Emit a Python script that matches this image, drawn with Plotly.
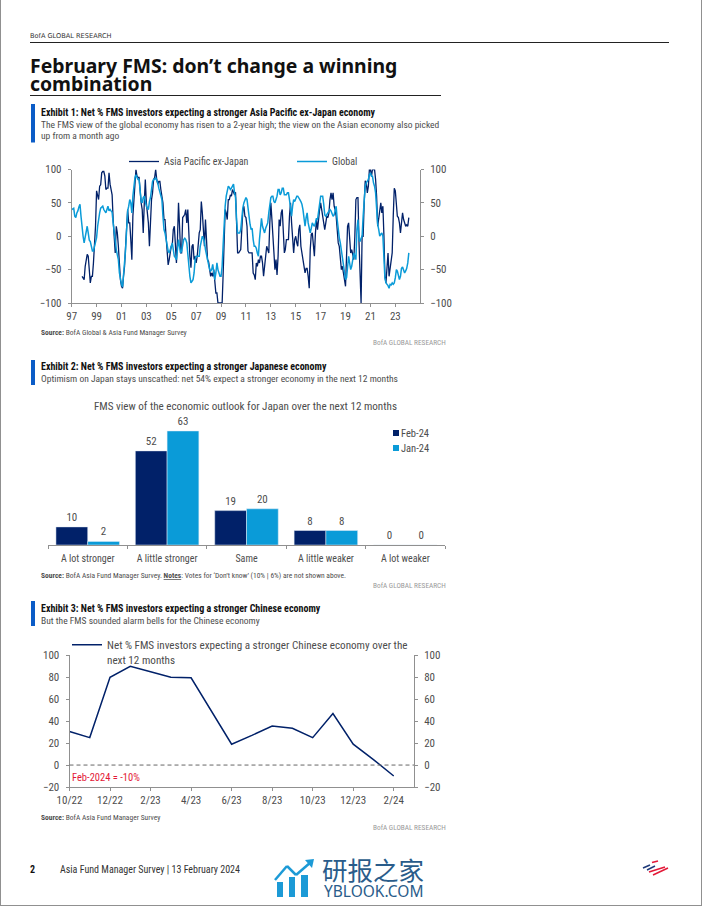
import plotly.graph_objects as go
import pandas as pd

W, H = 702, 907
NAVY = "#012169"
LIGHT = "#0A9BD8"
GRAY = "#909090"
TXT = "#4d4d4d"
BODY = "Roboto Condensed"

# ---- Exhibit 1 (monthly from Jan 1997)
global_view = [40,41,42,30,28,35,38,44,48,30,8,0,-10,0,10,15,5,-6,-8,-15,-22,-22,-15,-5,
 -2,15,28,35,42,44,45,40,38,35,40,45,38,40,38,36,20,5,-5,-20,-28,-35,-55,-65,
 -72,-76,-60,-45,-20,10,38,45,55,50,35,60,80,88,92,88,85,85,70,52,50,58,60,52,
 45,42,40,52,58,70,82,85,85,88,85,80,72,66,60,55,30,10,5,-5,-15,-22,-25,-20,
 -15,-10,-20,-30,-32,-35,-20,-5,-15,-25,-22,-12,-5,-3,-5,-10,-30,-40,-60,-70,-68,-65,-55,-35,
 -30,-30,-30,-30,-15,-5,0,-3,-8,-20,-28,-35,-45,-50,-52,-50,-42,-60,-65,-55,-40,-50,-55,-60,
 -60,-45,-15,20,45,60,68,75,73,70,72,76,78,65,58,25,5,5,5,10,30,42,50,55,
 58,55,40,25,18,10,12,-5,-15,-15,-18,-25,-30,-5,15,27,15,8,5,12,15,20,35,50,
 58,60,60,52,50,55,60,70,70,62,65,72,72,62,62,62,65,65,55,40,30,45,55,52,
 55,60,60,58,55,52,48,40,25,15,28,35,20,8,5,12,20,17,15,20,27,25,40,52,
 60,60,60,48,32,30,33,35,37,40,38,35,30,32,38,45,25,8,-2,-10,-22,-35,-48,-55,
 -65,-62,-40,-30,-40,-50,-45,-35,-25,-30,-35,10,25,-5,-8,-3,0,30,60,75,80,82,85,92,
 95,90,90,80,75,65,40,18,10,0,3,5,0,-30,-62,-70,-72,-74,-78,-72,-73,-70,-72,-70,
 -62,-50,-52,-62,-65,-60,-48,-46,-50,-55,-52,-48,-40,-25]

apac_view = [None]*10 + [-60,-62,-65,-45,-32,-27,-30,-55,-70,-60,-60,-40,-15,15,
 68,58,55,75,77,95,97,97,90,70,72,72,95,78,68,62,25,0,-25,15,5,-15,-50,-65,
 -75,-78,-60,-45,-15,20,40,20,20,-5,-35,30,60,85,100,90,88,88,65,50,40,5,50,85,
 50,30,20,-15,30,55,65,85,88,100,85,78,82,82,70,60,50,25,25,0,-20,-43,-35,-20,
 -15,-12,10,15,-10,-40,-5,50,15,-25,-25,28,30,33,40,20,40,0,-30,-47,-15,-12,-35,-30,
 -40,-30,-10,5,10,52,35,10,-15,25,-15,-35,-38,-55,-60,-55,-60,-50,-75,-85,-85,-100,-100,-100,
 -100,-100,-60,-10,40,35,25,55,55,62,60,70,65,62,66,20,-25,-25,-22,-20,10,38,45,30,
 28,15,-22,-25,-25,-25,-25,-55,-58,-65,-40,-45,-35,-40,-30,-30,-40,-60,-45,-30,-15,-20,-25,20,
 50,25,0,-15,-50,-35,-58,-30,25,15,35,40,15,-25,-20,-5,-5,-5,30,50,20,-10,-25,-5,
 0,-10,-15,10,17,-15,-25,-28,-45,-55,-48,-48,-60,-78,-20,3,5,-10,-30,5,25,10,30,40,
 50,40,30,25,10,20,30,28,35,55,65,55,65,45,40,30,0,-10,-15,-40,-50,-45,-60,-65,
 -75,-25,15,20,-5,-25,-20,-30,-35,0,55,58,58,-10,-60,-100,0,0,50,83,80,65,75,100,
 100,90,100,100,100,85,60,15,25,40,50,35,45,0,-60,-70,-45,-25,-60,-50,-40,-25,30,72,
 68,50,30,28,20,5,20,35,25,18,15,17,15,28]

months = pd.date_range("1997-01-01", periods=len(global_view), freq="MS")

# ---- Exhibit 2
japan_categories = ["A lot stronger", "A little stronger", "Same", "A little weaker", "A lot weaker"]
feb24 = [10, 52, 19, 8, 0]
jan24 = [2, 63, 20, 8, 0]

# ---- Exhibit 3
china_months = ["10/22","11/22","12/22","1/23","2/23","3/23","4/23","5/23","6/23","7/23",
                "8/23","9/23","10/23","11/23","12/23","1/24","2/24"]
china_view = [30.5,25,80,90,85,80,79.5,49,19,27,35.5,33.5,25,47,19,5,-10]

def X(p): return p / W
def Y(p): return 1 - p / H

fig = go.Figure()

fig.add_trace(go.Scatter(x=months, y=apac_view, name="Asia Pacific ex-Japan", mode="lines",
    line=dict(color=NAVY, width=1.3), legend="legend", xaxis="x", yaxis="y"))
fig.add_trace(go.Scatter(x=months, y=global_view, name="Global", mode="lines",
    line=dict(color=LIGHT, width=1.5), legend="legend", xaxis="x", yaxis="y"))
fig.add_trace(go.Scatter(x=[], y=[], showlegend=False, xaxis="x", yaxis="y2"))

lblfont = dict(family=BODY, size=11, color=TXT)
fig.add_trace(go.Bar(x=japan_categories, y=feb24, name="Feb-24", marker_color=NAVY, text=feb24,
    textposition="outside", textfont=lblfont, cliponaxis=False, showlegend=False, xaxis="x3", yaxis="y3"))
fig.add_trace(go.Bar(x=japan_categories, y=jan24, name="Jan-24", marker_color=LIGHT, text=jan24,
    textposition="outside", textfont=lblfont, cliponaxis=False, showlegend=False, xaxis="x3", yaxis="y3"))

fig.add_trace(go.Scatter(x=china_months, y=china_view, mode="lines",
    name="Net % FMS investors expecting a stronger Chinese economy over the<br>next 12 months",
    line=dict(color=NAVY, width=1.5), legend="legend3", xaxis="x5", yaxis="y5"))
fig.add_trace(go.Scatter(x=[], y=[], showlegend=False, xaxis="x5", yaxis="y6"))

tick = dict(family=BODY, size=11, color=TXT)
axc = dict(showgrid=False, zeroline=False, showline=True, linecolor=GRAY, linewidth=1,
           ticks="outside", ticklen=3, tickcolor=GRAY, tickfont=tick)
ayc = dict(axc, ticklabelstandoff=4)
dom1x = [X(71.7), X(420)]; dom1y = [Y(303), Y(169.5)]
dom3x = [X(69.5), X(414)]; dom3y = [Y(787), Y(655.3)]

fig.update_layout(
    width=W, height=H, margin=dict(l=0, r=0, t=0, b=0, autoexpand=False), autosize=False,
    paper_bgcolor="white", plot_bgcolor="white", showlegend=True,
    font=dict(family=BODY, color=TXT), barmode="group", bargap=0.2, bargroupgap=0,
    xaxis=dict(axc, domain=dom1x, anchor="y", type="date", range=["1997-01-01", "2024-12-25"],
               dtick="M24", tick0="1997-01-01", tickformat="%y"),
    yaxis=dict(ayc, domain=dom1y, anchor="x", range=[-100, 100], dtick=50),
    yaxis2=dict(ayc, domain=dom1y, anchor="x", overlaying="y", side="right", range=[-100, 100], dtick=50),
    xaxis3=dict(domain=[X(48), X(445)], anchor="y3", type="category", showgrid=False, zeroline=False,
                showline=True, linecolor=GRAY, ticks="outside", tickson="boundaries", ticklen=3,
                tickcolor=GRAY, ticklabelstandoff=4, tickfont=dict(family=BODY, size=10, color=TXT)),
    yaxis3=dict(domain=[Y(545), Y(425)], anchor="x3", range=[0, 66.3], visible=False),
    xaxis5=dict(axc, domain=dom3x, anchor="y5", type="category", categoryorder="array",
                categoryarray=china_months, range=[0, 17], dtick=2, tick0=0),
    yaxis5=dict(ayc, domain=dom3y, anchor="x5", range=[-20, 100], dtick=20),
    yaxis6=dict(ayc, domain=dom3y, anchor="x5", overlaying="y5", side="right", range=[-20, 100], dtick=20),
    legend=dict(orientation="h", x=X(124), y=Y(147), xanchor="left", yanchor="top",
                entrywidth=123, entrywidthmode="pixels", font=dict(family=BODY, size=10, color=TXT),
                bgcolor="rgba(0,0,0,0)", itemwidth=30, tracegroupgap=0),
    legend3=dict(orientation="v", x=X(67), y=Y(631), xanchor="left", yanchor="top", valign="top",
                 font=dict(family=BODY, size=11.15, color=TXT), bgcolor="rgba(0,0,0,0)", itemwidth=30),
)

def note(x, y, text, size=10, color=TXT, family=BODY, anchor="left"):
    fig.add_annotation(x=X(x), y=Y(y), xref="paper", yref="paper", text=text, showarrow=False,
                       xanchor=anchor, yanchor="middle", align=anchor,
                       font=dict(family=family, size=size, color=color), borderpad=0, borderwidth=0)

BLACK = "#111111"
note(30, 35.5, "BofA GLOBAL RESEARCH", 6.6, "#333333", "DejaVu Sans")
note(30, 65.5, "<b>February FMS: don’t change a winning</b>", 19.4, BLACK, "Noto Sans")
note(30, 83.5, "<b>combination</b>", 19.4, BLACK, "Noto Sans")

note(41, 112, "<b>Exhibit 1: Net % FMS investors expecting a stronger Asia Pacific ex-Japan economy</b>", 10, BLACK)
note(41, 124.5, "The FMS view of the global economy has risen to a 2-year high; the view on the Asian economy also picked", 9.5)
note(41, 136, "up from a month ago", 9.5)
note(41, 332.5, "<b>Source:</b> BofA Global & Asia Fund Manager Survey", 7.5)
note(446, 343, "BofA GLOBAL RESEARCH", 7.3, "#9a9a9a", anchor="right")

note(41, 366, "<b>Exhibit 2: Net % FMS investors expecting a stronger Japanese economy</b>", 10, BLACK)
note(41, 379, "Optimism on Japan stays unscathed: net 54% expect a stronger economy in the next 12 months", 9.5)
note(245, 406, "FMS view of the economic outlook for Japan over the next 12 months", 11.1, anchor="center")
note(401, 433, "Feb-24", 10.5)
note(401, 448, "Jan-24", 10.5)
note(41, 575, "<b>Source:</b> BofA Asia Fund Manager Survey. <b><u>Notes</u></b>: Votes for ‘Don’t know’ (10% | 6%) are not shown above.", 7.5)
note(446, 585, "BofA GLOBAL RESEARCH", 7.3, "#9a9a9a", anchor="right")

note(41, 608, "<b>Exhibit 3: Net % FMS investors expecting a stronger Chinese economy</b>", 10, BLACK)
note(41, 620, "But the FMS sounded alarm bells for the Chinese economy", 9.5)
note(72, 777, "Feb-2024 = -10%", 10.5, "#E31837")
note(41, 817, "<b>Source:</b> BofA Asia Fund Manager Survey", 7.5)
note(446, 827, "BofA GLOBAL RESEARCH", 7.3, "#9a9a9a", anchor="right")

note(30, 869.5, "<b>2</b>", 10, BLACK)
note(60, 869.5, "Asia Fund Manager Survey | 13 February 2024", 10, "#333333")
note(322, 868, "研报之家", 25.5, "#2A5C8A", "Noto Sans CJK SC")
note(324, 891, "YBLOOK.COM", 15.5, "#2A5C8A", "Noto Sans")

shapes = []
def rect(x0, y0, x1, y1, color):
    shapes.append(dict(type="rect", xref="paper", yref="paper", x0=X(x0), x1=X(x1), y0=Y(y0), y1=Y(y1),
                       fillcolor=color, line_width=0, layer="below"))
def line(x0, y0, x1, y1, color, width=1, dash="solid"):
    shapes.append(dict(type="line", xref="paper", yref="paper", x0=X(x0), x1=X(x1), y0=Y(y0), y1=Y(y1),
                       line=dict(color=color, width=width, dash=dash)))

line(0.5, 0, 0.5, 906, GRAY, 1); line(0, 905.5, 702, 905.5, GRAY, 1); line(701.5, 0, 701.5, 906, GRAY, 1)
line(30, 42.5, 669, 42.5, "#222222", 1)
line(30, 95.5, 441, 95.5, "#222222", 1.2)
rect(31, 104, 35, 142.5, "#0B5CC7")
rect(31, 360, 35, 385, "#0B5CC7")
rect(31, 601, 35, 626, "#0B5CC7")
rect(393, 430, 399, 436, NAVY)
rect(393, 445, 399, 451, LIGHT)
shapes.append(dict(type="line", xref="paper", yref="y5", x0=dom3x[0], x1=dom3x[1], y0=0, y1=0,
                   line=dict(color="#666666", width=1, dash="4px,3px")))
# watermark icon
rect(277, 882, 283, 897, "#1C9AD6"); rect(289, 877, 295, 897, "#1C9AD6"); rect(301, 875, 308, 897, "#1C9AD6")
line(275, 880, 287, 866, "#1C9AD6", 2.5); line(287, 866, 296, 875, "#1C9AD6", 2.5); line(296, 875, 311, 862, "#1C9AD6", 2.5)
shapes.append(dict(type="path", xref="paper", yref="paper", fillcolor="#1C9AD6", line_width=0,
                   path=f"M {X(305)} {Y(860)} L {X(314)} {Y(859)} L {X(312)} {Y(868)} Z"))
# bank logo
line(643, 868, 650, 865, "#1F3A7A", 1.5); line(647, 870, 655, 866, "#1F3A7A", 1.5)
line(652, 862.5, 658, 861, "#E31837", 1.5); line(649, 872, 665, 867, "#E31837", 1.5); line(653, 875, 668, 868, "#E31837", 1.5)
fig.update_layout(shapes=shapes)

fig.write_html("out.html", config=dict(displayModeBar=False),
               post_script="document.body.style.margin='0';document.body.style.overflow='hidden';")
